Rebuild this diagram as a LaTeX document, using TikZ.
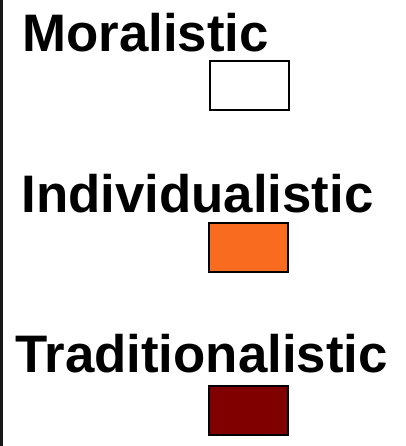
\documentclass[tikz,border=0pt]{standalone}
\usepackage{fontspec}
\setmainfont{Liberation Sans}
\definecolor{indorange}{RGB}{249,107,30}
\definecolor{tradred}{RGB}{128,0,0}

\begin{document}
\begin{tikzpicture}[x=1bp,y=-1bp,
    culture/.style={anchor=base,inner sep=0pt,font=\fontsize{53}{60}\selectfont\bfseries},
    swatch/.style={draw=black,line width=2bp,minimum width=79bp,minimum height=49bp,inner sep=0pt}]
    \useasboundingbox (0,0) rectangle (405,446);
    \draw[line width=2bp,black!90] (1.5,0)--(1.5,446);
    \node[culture] (mor) at (145.5,52) {Moralistic};
    \node[swatch,fill=white] (morbox) at (249.5,85.5) {};
    \node[culture] (ind) at (197.5,213) {Individualistic};
    \node[swatch,fill=indorange] (indbox) at (248.5,247.5) {};
    \node[culture] (trad) at (201.5,372) {Traditionalistic};
    \node[swatch,fill=tradred] (tradbox) at (248.5,410.5) {};
  \end{tikzpicture}
\end{document}
